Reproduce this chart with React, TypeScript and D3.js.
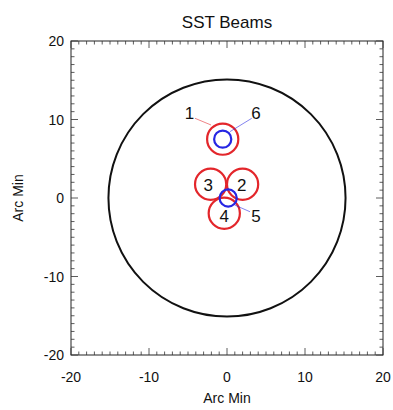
import * as d3 from 'd3';

// beams in arc min
const beamIds = ['1', '2', '3', '4', '5', '6'];
const beamX = [-0.55, 2.0, -2.1, -0.35, 0.15, -0.55];
const beamY = [7.5, 1.75, 1.75, -1.95, 0.0, 7.5];
const beamR = [2.0, 2.0, 2.0, 2.0, 1.1, 1.1];
const beamType = ['red', 'red', 'red', 'red', 'blue', 'blue'];
// label positions (arc min)
const labelX = [-4.8, 1.9, -2.4, -0.35, 3.7, 3.7];
const labelY = [10.8, 1.7, 1.7, -2.3, -2.3, 10.8];
// leader lines: label end -> beam end (null = no leader)
const leaderX1 = [-4.1, null, null, null, 2.95, 3.17];
const leaderY1 = [10.15, null, null, null, -1.75, 10.15];
const leaderX2 = [-2.05, null, null, null, 1.0, 0.38];
const leaderY2 = [9.3, null, null, null, -0.9, 8.45];

const fovRadius = 15.2;
const majorTicks = [-20, -10, 0, 10, 20];
const minorTicks = d3.range(-20, 21, 1);

export default function App() {
  const width = 393;
  const height = 410;
  const margin = { top: 41, right: 10, bottom: 55, left: 71 };
  const x = d3.scaleLinear().domain([-20, 20]).range([margin.left, width - margin.right]);
  const y = d3.scaleLinear().domain([-20, 20]).range([height - margin.bottom, margin.top]);
  const k = x(1) - x(0);
  const colors: Record<string, string> = { red: '#e3262b', blue: '#2626e3' };
  const font = 'Liberation Sans, Arial, Helvetica, sans-serif';
  const x0 = x(-20), x1 = x(20), y0 = y(-20), y1 = y(20);

  return (
    <svg width={width} height={height} style={{ position: 'absolute', left: 0, top: 0, background: '#fff' }}
      fontFamily={font}>
      <text x={(x0 + x1) / 2} y={28} textAnchor="middle" fontSize={17} fill="#111">SST Beams</text>

      <rect x={x0} y={y1} width={x1 - x0} height={y0 - y1} fill="none" stroke="#222" strokeWidth={1} />

      {/* ticks on all sides, pointing inward */}
      <g stroke="#333" strokeWidth={0.8}>
        {minorTicks.map(t => {
          const len = t % 10 === 0 ? 7 : 3.5;
          return (
            <g key={t}>
              <line x1={x(t)} x2={x(t)} y1={y0} y2={y0 - len} />
              <line x1={x(t)} x2={x(t)} y1={y1} y2={y1 + len} />
              <line y1={y(t)} y2={y(t)} x1={x0} x2={x0 + len} />
              <line y1={y(t)} y2={y(t)} x1={x1} x2={x1 - len} />
            </g>
          );
        })}
      </g>

      <g fontSize={14} fill="#111">
        {majorTicks.map(t => (
          <text key={'x' + t} x={x(t)} y={y0 + 27} textAnchor="middle">{t}</text>
        ))}
        {majorTicks.map(t => (
          <text key={'y' + t} x={x0 - 7} y={y(t) + 5} textAnchor="end">{t}</text>
        ))}
      </g>
      <text x={(x0 + x1) / 2} y={height - 7} textAnchor="middle" fontSize={14} fill="#111">Arc Min</text>
      <text transform={`translate(23,${(y0 + y1) / 2}) rotate(-90)`} textAnchor="middle" fontSize={14} fill="#111">Arc Min</text>

      <circle cx={x(0)} cy={y(0)} r={fovRadius * k} fill="none" stroke="#111" strokeWidth={2} />

      {beamIds.map((id, i) => (
        <circle key={'c' + id} cx={x(beamX[i])} cy={y(beamY[i])} r={beamR[i] * k}
          fill="none" stroke={colors[beamType[i]]} strokeWidth={2.2} />
      ))}

      {beamIds.map((id, i) => leaderX1[i] === null ? null : (
        <line key={'l' + id} x1={x(leaderX1[i] as number)} y1={y(leaderY1[i] as number)}
          x2={x(leaderX2[i] as number)} y2={y(leaderY2[i] as number)}
          stroke={colors[beamType[i]]} strokeWidth={0.8} opacity={0.7} />
      ))}

      <g fontSize={17} fill="#111" textAnchor="middle">
        {beamIds.map((id, i) => (
          <text key={'t' + id} x={x(labelX[i])} y={y(labelY[i]) + 6}>{id}</text>
        ))}
      </g>
    </svg>
  );
}
